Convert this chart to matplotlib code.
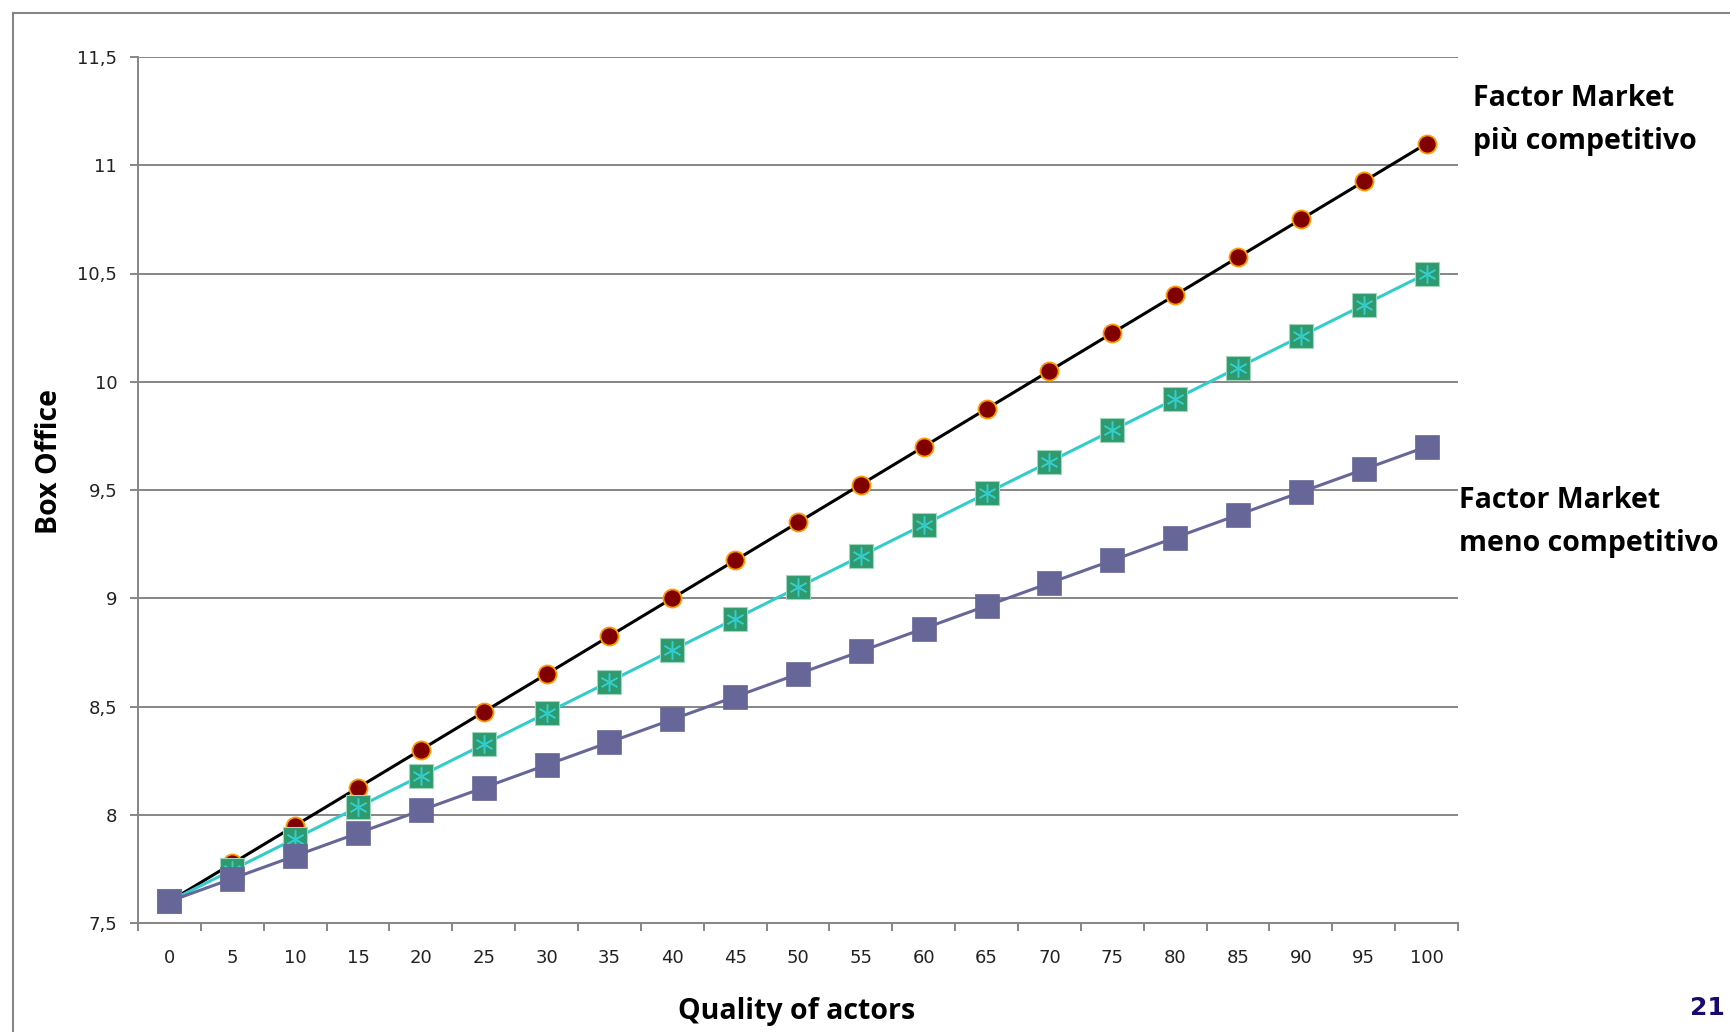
import matplotlib.pyplot as plt
from matplotlib.lines import Line2D

quality = [0, 5, 10, 15, 20, 25, 30, 35, 40, 45, 50,
           55, 60, 65, 70, 75, 80, 85, 90, 95, 100]

# box office for the three factor market scenarios
piu_competitivo = [7.6, 7.775, 7.95, 8.125, 8.3, 8.475, 8.65, 8.825, 9.0, 9.175, 9.35,
                   9.525, 9.7, 9.875, 10.05, 10.225, 10.4, 10.575, 10.75, 10.925, 11.1]
intermedio = [7.6, 7.745, 7.89, 8.035, 8.18, 8.325, 8.47, 8.615, 8.76, 8.905, 9.05,
              9.195, 9.34, 9.485, 9.63, 9.775, 9.92, 10.065, 10.21, 10.355, 10.5]
meno_competitivo = [7.6, 7.705, 7.81, 7.915, 8.02, 8.125, 8.23, 8.335, 8.44, 8.545, 8.65,
                    8.755, 8.86, 8.965, 9.07, 9.175, 9.28, 9.385, 9.49, 9.595, 9.7]

y_ticks = [7.5, 8, 8.5, 9, 9.5, 10, 10.5, 11, 11.5]
y_labels = ["7,5", "8", "8,5", "9", "9,5", "10", "10,5", "11", "11,5"]

W, H = 1731, 1032
fig = plt.figure(figsize=(W / 100, H / 100), dpi=100)
ax = fig.add_axes([138 / W, 1 - 923 / H, (1458 - 138) / W, (923 - 57) / H])

grid_col = "#868686"

ax.plot(quality, piu_competitivo, color="black", lw=2.2, marker="o", ms=13,
        mfc="#800000", mec="#FF9900", mew=1.3, zorder=3)
ax.plot(quality, intermedio, color="#33CCCC", lw=2.2, marker="s", ms=17,
        mfc="#2E9A6E", mec="#9FD6BC", mew=0.8, zorder=4)
ax.plot(quality, intermedio, ls="none", marker=(6, 2, 0), ms=13,
        mec="#33CCCC", mew=1.1, zorder=4)
ax.plot(quality, meno_competitivo, color="#666699", lw=2.2, marker="s", ms=17.5,
        mfc="#666699", mec="#666699", mew=0.5, zorder=5)

ax.set_xlim(-2.5, 102.5)
ax.set_ylim(7.5, 11.5)

ax.set_yticks(y_ticks)
ax.set_yticklabels(y_labels)
ax.yaxis.grid(True, color=grid_col, lw=1.4)
ax.set_axisbelow(True)

# category labels centred, tick marks on the category boundaries
ax.set_xticks(quality)
ax.set_xticklabels([str(q) for q in quality])
ax.set_xticks([q - 2.5 for q in quality] + [102.5], minor=True)
ax.tick_params(axis="x", which="major", length=0, pad=19)
ax.tick_params(axis="x", which="minor", length=6, width=1.4, color=grid_col, direction="out")
ax.tick_params(axis="y", length=6, width=1.4, color=grid_col, pad=9)
for lab in ax.get_xticklabels() + ax.get_yticklabels():
    lab.set_fontfamily("DejaVu Sans")
    lab.set_fontsize(13)
    lab.set_color("#222222")

for side in ("top", "right"):
    ax.spines[side].set_visible(False)
for side in ("left", "bottom"):
    ax.spines[side].set_color(grid_col)
    ax.spines[side].set_linewidth(1.4)

title_kw = dict(family="Open Sans", weight="bold", fontsize=20.5)
fig.text(50 / W, 1 - 461 / H, "Box Office", rotation=90, ha="center", va="center", **title_kw)
fig.text(797 / W, 1 - 1011 / H, "Quality of actors", ha="center", va="center", **title_kw)

fig.text(1473 / W, 1 - 98 / H, "Factor Market", ha="left", va="center", **title_kw)
fig.text(1473 / W, 1 - 141 / H, "più competitivo", ha="left", va="center", **title_kw)
fig.text(1459 / W, 1 - 500 / H, "Factor Market", ha="left", va="center", **title_kw)
fig.text(1459 / W, 1 - 543 / H, "meno competitivo", ha="left", va="center", **title_kw)

fig.text(1707 / W, 1 - 1008 / H, "21", ha="center", va="center",
         family="DejaVu Sans", weight="bold", fontsize=18, color="#1A0A6E")

# chart frame (top and left edge)
fig.add_artist(Line2D([13 / W, 13 / W], [0, 1 - 13 / H], color=grid_col, lw=1.5))
fig.add_artist(Line2D([13 / W, 1], [1 - 13 / H, 1 - 13 / H], color=grid_col, lw=1.5))

fig.savefig("out.png", dpi=100)
